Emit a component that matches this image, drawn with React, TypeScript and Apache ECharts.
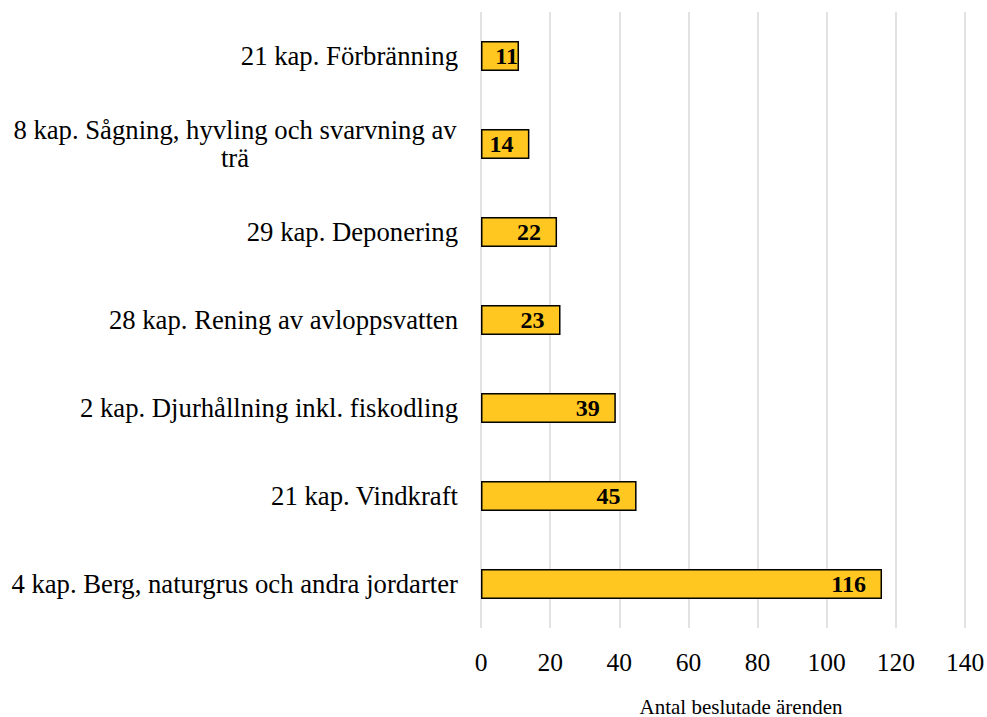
import React, { useEffect, useRef } from "react";
import * as echarts from "echarts";

const categories = [
  "4 kap. Berg, naturgrus och andra jordarter",
  "21 kap. Vindkraft",
  "2 kap. Djurhållning inkl. fiskodling",
  "28 kap. Rening av avloppsvatten",
  "29 kap. Deponering",
  "8 kap. Sågning, hyvling och svarvning av\nträ",
  "21 kap. Förbränning",
];
const values = [116, 45, 39, 23, 22, 14, 11];
const axisTitle = "Antal beslutade ärenden";

export default function App() {
  const ref = useRef<HTMLDivElement>(null);
  useEffect(() => {
    const chart = echarts.init(ref.current!, null, { renderer: "svg" });
    const font = "'Liberation Serif', 'Times New Roman', serif";
    chart.setOption({
      animation: false,
      textStyle: { fontFamily: font },
      grid: {
        left: 481,
        right: 22,
        top: 12,
        bottom: 89,
        containLabel: false,
        outerBoundsMode: "none",
      },
      xAxis: {
        type: "value",
        min: 0,
        max: 140,
        interval: 20,
        axisLine: { show: false },
        axisTick: { show: false },
        splitLine: { show: true, lineStyle: { color: "#d9d9d9", width: 1.5 } },
        axisLabel: { color: "#000", fontSize: 25.5, fontFamily: font, margin: 21 },
        name: axisTitle,
        nameLocation: "middle",
        nameGap: 68,
        nameTextStyle: { color: "#000", fontSize: 21, fontFamily: font, padding: [0, 0, 0, 36] },
      },
      yAxis: {
        type: "category",
        data: categories,
        axisLine: { show: false },
        axisTick: { show: false },
        axisLabel: {
          color: "#000",
          fontSize: 26.7,
          fontFamily: font,
          margin: 23,
          align: "right",
          lineHeight: 28,
          formatter: (v: string) => {
            if (v.indexOf("\n") >= 0) {
              return v
                .split("\n")
                .map((line) => "{c|" + line + "}")
                .join("\n");
            }
            return v;
          },
          rich: {
            c: {
              width: 446,
              align: "center",
              fontSize: 26.7,
              lineHeight: 28,
              fontFamily: font,
              color: "#000",
            },
          },
        },
      },
      series: [
        {
          type: "bar",
          data: values.map((v) =>
            v < 12 ? { value: v, label: { distance: 1 } } : { value: v }
          ),
          barWidth: 30,
          itemStyle: { color: "#FFC720", borderColor: "#000", borderWidth: 1.5 },
          label: {
            show: true,
            position: "insideRight",
            distance: 16,
            color: "#000",
            fontWeight: "bold",
            fontSize: 24,
            fontFamily: font,
          },
        },
      ],
    });
    return () => chart.dispose();
  }, []);
  return <div ref={ref} style={{ width: 987, height: 717, position: "absolute", left: 0, top: 0 }} />;
}
